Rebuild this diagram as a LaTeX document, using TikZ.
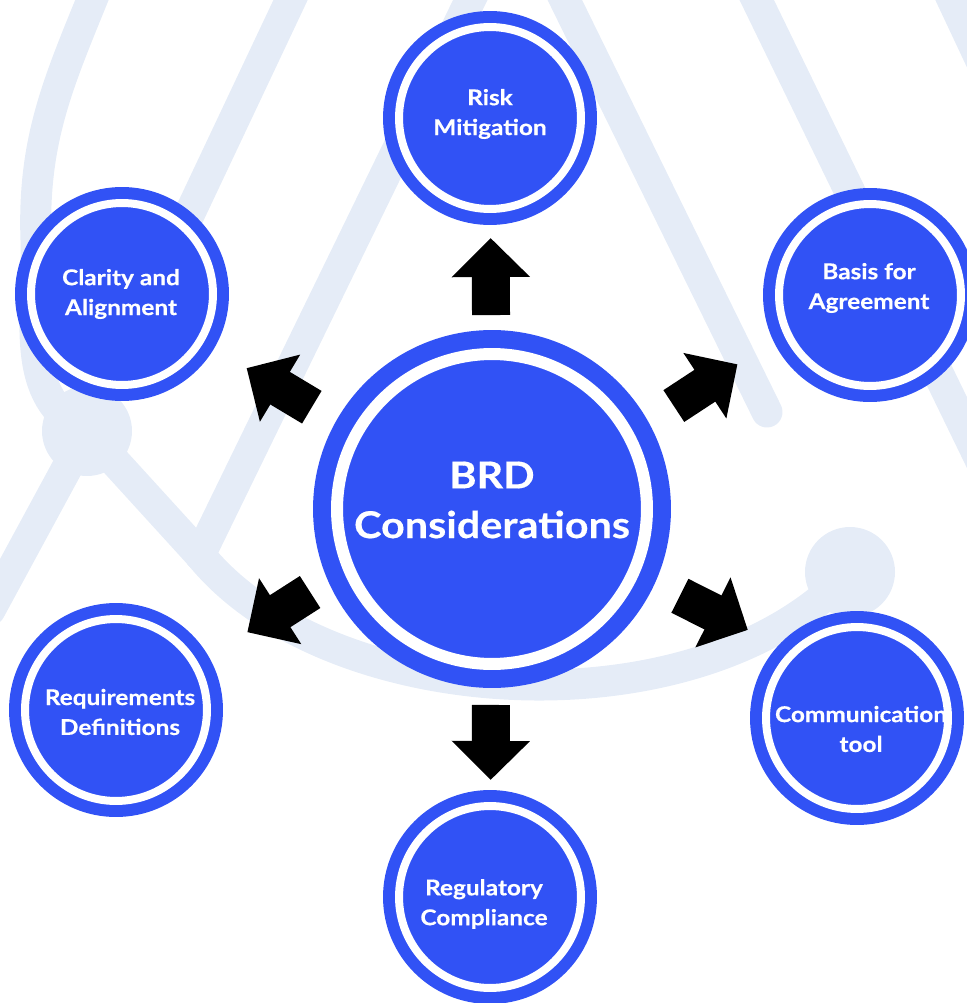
\documentclass[tikz,border=0pt]{standalone}
\usepackage{fontspec}
\setmainfont{Lato}[FakeStretch=1.12, BoldFeatures={FakeBold=0.4}]
\usetikzlibrary{arrows.meta, calc}
\definecolor{brdblue}{RGB}{49,82,245}
\definecolor{wmark}{RGB}{229,236,247}

\begin{document}
\begin{tikzpicture}[x=0.02cm, y=-0.02cm,
  topic/.style={circle, fill=brdblue, draw=brdblue, double=white, double distance=0.16cm, line width=0.24cm, minimum size=3.64cm, inner sep=0},
  hub/.style={circle, fill=brdblue, draw=brdblue, double=white, double distance=0.24cm, line width=0.36cm, minimum size=6.2cm, inner sep=0},
  topictext/.style={text=white, align=center, font=\bfseries\fontsize{12.4}{17}\selectfont},
  bigarrow/.style={line width=0.76cm, -{Triangle[length=0.78cm, width=1.52cm]}},
  wmline/.style={wmark, line width=0.62cm, line cap=round, line join=round}]
  \useasboundingbox (0,0) rectangle (966,1003);

  % faint logo strokes in the back
  \coordinate (wa) at (87,431);
  \coordinate (wv) at (200,555);
  \coordinate (wb) at (850,572);
  \draw[wmline] (98,-15) to[out=-112, in=92] (36,240) to[out=-88, in=155] (wa);
  \draw[wmline] (300,-20) -- (wa);
  \draw[wmline] (wa) -- (-10,610);
  \draw[wmline] (wa) -- (wv);
  \draw[wmline] (480,-20) -- (wv);
  \draw[wmline] (wv) .. controls (330,715) and (700,735) .. (wb);
  \draw[wmline] (555,-20) -- (767,412);
  \draw[wmline] (747,-20) -- (990,480);
  \draw[wmline] (943,-20) -- (990,80);
  \fill[wmark] (wa) circle (45);
  \fill[wmark] (wb) circle (45);

  \node[hub] (brd) at (492,509) {};
  \node[text=white, align=center, font=\bfseries\fontsize{21}{28.3}\selectfont] (brd-t) at (492,500) {BRD\\Considerations};

  \node[topic] (risk) at (490,118) {};
  \node[topic] (clarity) at (122,294) {};
  \node[topic] (basis) at (870,295) {};
  \node[topic] (req) at (116,710) {};
  \node[topic] (comm) at (857,718) {};
  \node[topic] (reg) at (490,897) {};

  \node[topictext] (risk-t) at (490,114) {Risk\\Mitigation};
  \node[topictext] (clarity-t) at (121,294) {Clarity and\\Alignment};
  \node[topictext] (basis-t) at (869,288) {Basis for\\Agreement};
  \node[topictext] (req-t) at (120,712) {Requirements\\Definitions};
  \node[topictext] (comm-t) at (861,729) {Communication\\tool};
  \node[topictext] (reg-t) at (484,904) {Regulatory\\Compliance};

  \draw[bigarrow] ($(brd)!3.88cm!(risk)$) -- ($(brd)!5.42cm!(risk)$);
  \draw[bigarrow] ($(brd)!4.18cm!(basis)$) -- ($(brd)!5.7cm!1:(basis)$);
  \draw[bigarrow] ($(brd)!4.14cm!5:(comm)$) -- ($(brd)!5.66cm!4.5:(comm)$);
  \draw[bigarrow] ($(brd)!3.92cm!(reg)$) -- ($(brd)!5.42cm!(reg)$);
  \draw[bigarrow] ($(brd)!4.0cm!-3.6:(req)$) -- ($(brd)!5.48cm!-1.4:(req)$);
  \draw[bigarrow] ($(brd)!4.14cm!0.7:(clarity)$) -- ($(brd)!5.66cm!0.3:(clarity)$);
\end{tikzpicture}
\end{document}
